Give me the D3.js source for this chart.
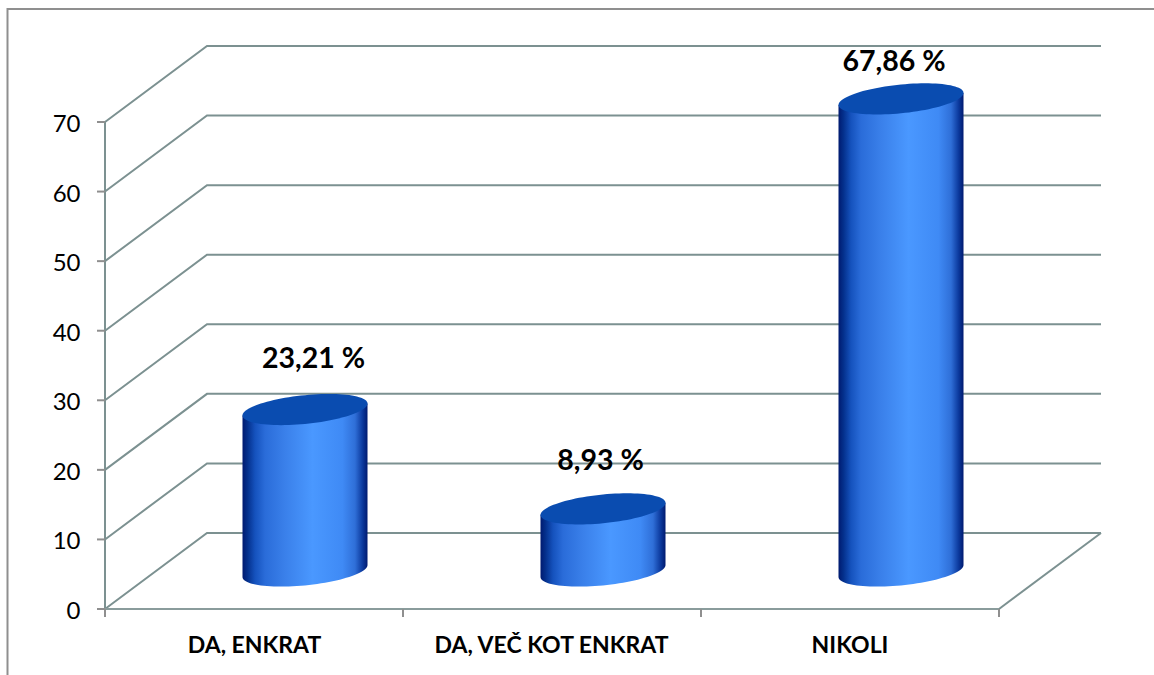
<!DOCTYPE html>
<html><head><meta charset="utf-8">
<script src="https://cdn.jsdelivr.net/npm/d3@7"></script>
<style>html,body{margin:0;padding:0;background:#fff}svg{display:block}text{font-family:Lato,"Open Sans",sans-serif;fill:#000}</style>
</head><body><svg width="1154" height="675"></svg>
<script>
const categories = ["DA, ENKRAT","DA, VEČ KOT ENKRAT","NIKOLI"];
const values = [23.21,8.93,67.86];
const valueLabels = ["23,21 %","8,93 %","67,86 %"];
const yTicks = [0,10,20,30,40,50,60,70];

const svg = d3.select("svg");
const x = d3.scaleBand().domain(categories).range([105,999]);
const y = d3.scaleLinear().domain([0,70]).range([609,122]);
const depthX = 102, depthY = -76;
const gridC = "#7c9191", frameC = "#8f8f8f";

svg.append("path").attr("d","M7.5,675V9H1154").attr("fill","none").attr("stroke",frameC).attr("stroke-width",2);

const defs = svg.append("defs");
const g = defs.append("linearGradient").attr("id","cyl").attr("x1",0).attr("x2",1).attr("y1",0).attr("y2",0);
[[0,"#001a70"],[0.04,"#04308c"],[0.1,"#1552bd"],[0.18,"#2a6cd9"],[0.34,"#3a80ea"],[0.56,"#4a98ff"],[0.8,"#3f8af5"],[0.9,"#2f6fd8"],[0.96,"#0c3a9e"],[1,"#001a70"]]
  .forEach(s=>g.append("stop").attr("offset",s[0]).attr("stop-color",s[1]));

const grid = svg.append("g").attr("fill","none").attr("stroke",gridC).attr("stroke-width",2);
yTicks.forEach(t=>{
  grid.append("path").attr("d",d3.line()([[x.range()[0],y(t)],[x.range()[0]+depthX,y(t)+depthY],[x.range()[1]+depthX,y(t)+depthY]]));
});
grid.append("path").attr("d",d3.line()([[x.range()[1],y(0)],[x.range()[1]+depthX,y(0)+depthY]]));
grid.append("path").attr("d",d3.line()([[x.range()[0],y(70)],[x.range()[0],y(0)]]));
svg.append("path").attr("d",d3.line()([[x.range()[0],y(0)],[x.range()[1],y(0)]])).attr("stroke","#8a9c9c").attr("stroke-width",2).attr("fill","none");

yTicks.forEach(t=>{
  svg.append("line").attr("x1",97).attr("x2",105).attr("y1",y(t)).attr("y2",y(t)).attr("stroke",frameC).attr("stroke-width",2);
  svg.append("text").attr("x",80.5).attr("y",y(t)+10).attr("text-anchor","end").attr("font-size",24).text(t);
});
[...categories.map(c=>x(c)),x.range()[1]].forEach(p=>{
  svg.append("line").attr("x1",p).attr("x2",p).attr("y1",y(0)).attr("y2",y(0)+8).attr("stroke",frameC).attr("stroke-width",2);
});

const rx = 62.5, skew = 6, ry = 14.4;
const midX = depthX/2, midY = depthY/2;
const line = d3.line();
const arc = (cx,cy,a0,a1,n=48)=>d3.range(n+1).map(i=>{
  const t=a0+(a1-a0)*i/n;
  return [cx+rx*Math.cos(t), cy-skew*Math.cos(t)+ry*Math.sin(t)];
});
const labelDx = [8.5,-2.5,-7], labelDy = [42,39,28], catX = [254.5,551.5,850];
categories.forEach((c,i)=>{
  const cx = x(c)+x.bandwidth()/2+midX;
  const base = y(0)+midY, top = y(values[i])+midY;
  const lower = arc(cx,base,0,Math.PI);
  svg.append("path").attr("d",line([...lower,[cx-rx,top+skew],[cx+rx,top-skew]])+"Z").attr("fill","url(#cyl)");
  svg.append("path").attr("d",line(arc(cx,top,0,2*Math.PI,96))+"Z").attr("fill","#0a4cb0");
  svg.append("text").attr("x",cx+labelDx[i]).attr("y",top-labelDy[i]).attr("text-anchor","middle").attr("font-size",28.5).attr("font-weight",700).text(valueLabels[i]);
  svg.append("text").attr("x",catX[i]).attr("y",653).attr("text-anchor","middle").attr("font-size",23).attr("font-weight",700).text(c);
});
</script></body></html>
